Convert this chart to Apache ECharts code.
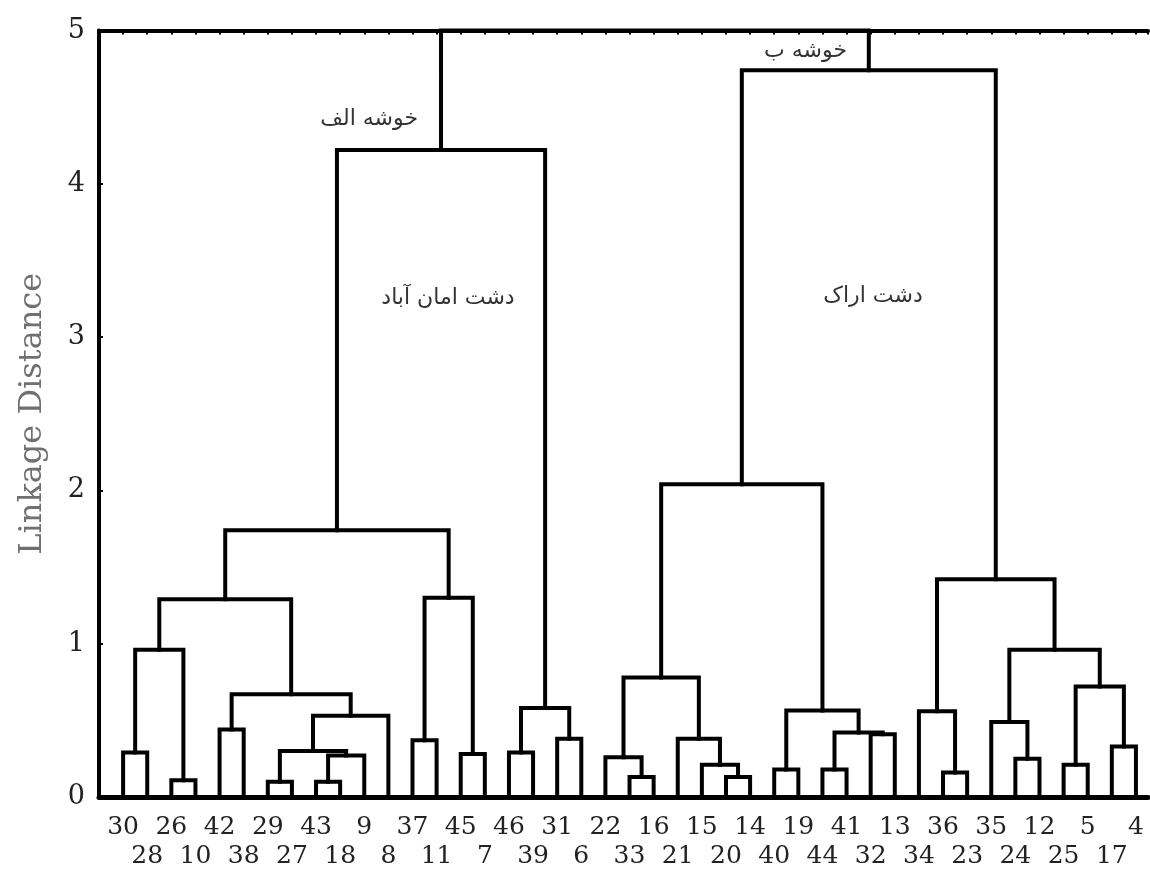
<!DOCTYPE html>
<html>
<head>
<meta charset="utf-8">
<script src="https://cdn.jsdelivr.net/npm/echarts@6/dist/echarts.min.js"></script>
<style>
  html, body { margin: 0; padding: 0; background: #fff; }
  #chart { width: 1150px; height: 871px; }
</style>
</head>
<body>
<div id="chart"></div>
<script>
// Leaf labels (sample wells), left to right along the axis
const leafLabels = ['30','28','26','10','42','38','29','27','43','18','9','8','37','11','45','7',
  '46','39','31','6','22','33','16','21','15','20','14','40','19','44','41','32','13','34','36',
  '23','35','24','12','25','5','17','4'];

// Agglomeration steps: [child A, child B, linkage distance].
// Ids below leafLabels.length are leaves; id n + k is the cluster formed at step k.
const merges = [
  [0, 1, 0.29],   // 43
  [2, 3, 0.11],   // 44
  [43, 44, 0.96], // 45
  [4, 5, 0.44],   // 46
  [6, 7, 0.10],   // 47
  [8, 9, 0.10],   // 48
  [48, 10, 0.27], // 49
  [47, 49, 0.30], // 50
  [50, 11, 0.53], // 51
  [46, 51, 0.67], // 52
  [45, 52, 1.29], // 53
  [12, 13, 0.37], // 54
  [14, 15, 0.28], // 55
  [54, 55, 1.30], // 56
  [53, 56, 1.74], // 57
  [16, 17, 0.29], // 58
  [18, 19, 0.38], // 59
  [58, 59, 0.58], // 60
  [57, 60, 4.22], // 61
  [21, 22, 0.13], // 62
  [20, 62, 0.26], // 63
  [25, 26, 0.13], // 64
  [24, 64, 0.21], // 65
  [23, 65, 0.38], // 66
  [63, 66, 0.78], // 67
  [27, 28, 0.18], // 68
  [29, 30, 0.18], // 69
  [31, 32, 0.41], // 70
  [69, 70, 0.42], // 71
  [68, 71, 0.565],// 72
  [67, 72, 2.04], // 73
  [34, 35, 0.16], // 74
  [33, 74, 0.56], // 75
  [37, 38, 0.25], // 76
  [36, 76, 0.49], // 77
  [39, 40, 0.21], // 78
  [41, 42, 0.33], // 79
  [78, 79, 0.72], // 80
  [77, 80, 0.96], // 81
  [75, 81, 1.42], // 82
  [73, 82, 4.74], // 83
  [61, 83, 5.00]  // 84
];

const yTicks = [0, 1, 2, 3, 4, 5];
const clusterNames = ['خوشه الف', 'خوشه ب'];
const plainNames = ['دشت امان آباد', 'دشت اراک'];

// Position each node: leaves at their index, clusters midway between children
const n = leafLabels.length;
const nodeX = leafLabels.map((_, i) => i);
const nodeH = leafLabels.map(() => 0);
const links = merges.map(([a, b, h]) => {
  const row = [nodeX[a], nodeX[b], nodeH[a], nodeH[b], h];
  nodeX.push((nodeX[a] + nodeX[b]) / 2);
  nodeH.push(h);
  return row;
});

const serif = 'DejaVu Serif';
const farsiFont = '22px "DejaVu Sans"';
const chart = echarts.init(document.getElementById('chart'), null, { renderer: 'canvas' });

chart.setOption({
  animation: false,
  backgroundColor: '#fff',
  grid: { left: 99, right: 2, top: 30.5, bottom: 68, containLabel: false },
  xAxis: [
    {
      type: 'value', min: -1, max: 42.5, interval: 1, position: 'bottom',
      splitLine: { show: false },
      axisLine: { show: true, onZero: false, lineStyle: { color: '#000', width: 5 } },
      axisTick: { show: false },
      axisLabel: {
        show: true, margin: 16, fontFamily: serif, fontSize: 25, color: '#222',
        lineHeight: 29, showMinLabel: false, showMaxLabel: false,
        formatter: v => {
          if (!Number.isInteger(v) || v < 0 || v >= n) return '';
          return (v % 2 ? '\n' : '') + leafLabels[v];
        }
      }
    },
    {
      type: 'value', min: -1, max: 42.5, interval: 1, position: 'top',
      splitLine: { show: false },
      axisLine: { show: true, onZero: false, lineStyle: { color: '#000', width: 4 } },
      axisTick: { show: true, inside: true, length: 4, lineStyle: { color: '#000', width: 2 } },
      axisLabel: { show: false }
    }
  ],
  yAxis: {
    type: 'value', min: 0, max: 5, interval: 1,
    name: 'Linkage Distance', nameLocation: 'middle', nameGap: 50,
    nameTextStyle: { fontFamily: serif, fontSize: 32, color: '#707070' },
    splitLine: { show: false },
    axisLine: { show: true, onZero: false, lineStyle: { color: '#000', width: 4 } },
    axisTick: { show: true, inside: true, length: 4, lineStyle: { color: '#000', width: 2 } },
    axisLabel: {
      margin: 14, fontFamily: serif, fontSize: 27, color: '#222',
      formatter: v => (yTicks.includes(v) ? String(v) : '')
    }
  },
  series: [{
    type: 'custom',
    xAxisIndex: 0,
    data: links,
    encode: { x: [0, 1], y: [2, 3, 4] },
    renderItem: (params, api) => {
      const pts = [
        api.coord([api.value(0), api.value(2)]),
        api.coord([api.value(0), api.value(4)]),
        api.coord([api.value(1), api.value(4)]),
        api.coord([api.value(1), api.value(3)])
      ];
      return {
        type: 'polyline',
        shape: { points: pts },
        style: { stroke: '#000', lineWidth: 4, fill: null, lineJoin: 'miter', lineCap: 'square' }
      };
    },
    clip: false
  }],
  graphic: [
    { type: 'text', x: 418, y: 119, style: { text: clusterNames[0], font: farsiFont, fill: '#333', align: 'right', verticalAlign: 'middle' } },
    { type: 'text', x: 847, y: 51, style: { text: clusterNames[1], font: farsiFont, fill: '#333', align: 'right', verticalAlign: 'middle' } },
    { type: 'text', x: 448, y: 298, style: { text: plainNames[0], font: farsiFont, fill: '#333', align: 'center', verticalAlign: 'middle' } },
    { type: 'text', x: 873, y: 296, style: { text: plainNames[1], font: farsiFont, fill: '#333', align: 'center', verticalAlign: 'middle' } }
  ]
});
</script>
</body>
</html>
